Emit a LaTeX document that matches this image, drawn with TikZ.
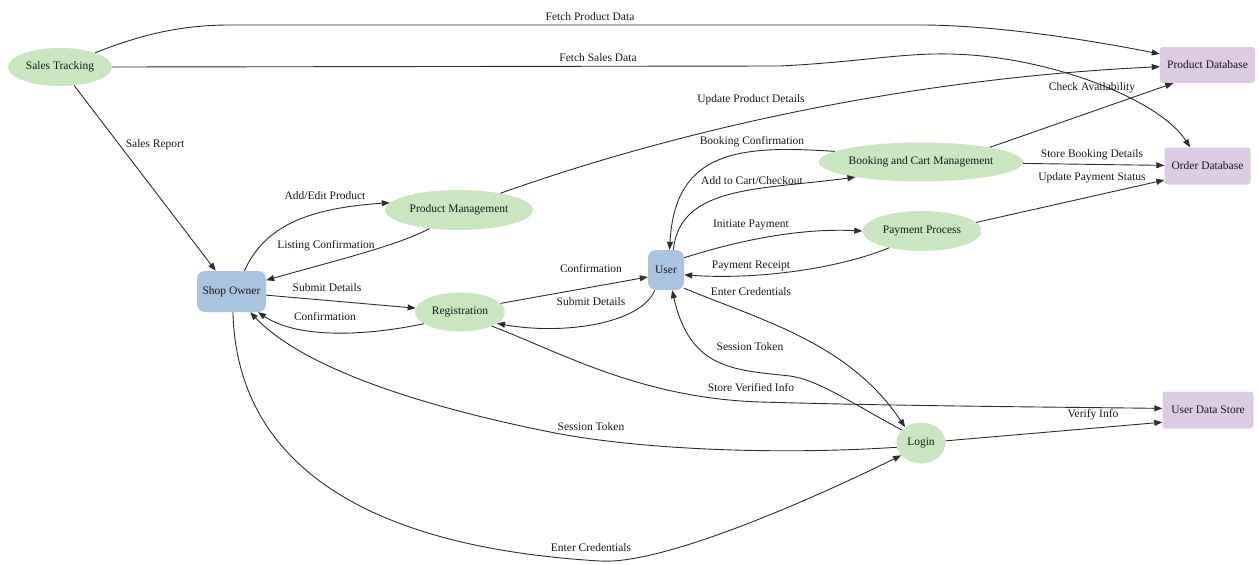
\documentclass[tikz,border=0pt]{standalone}
\usepackage{fontspec}
\setmainfont{Liberation Serif}
\usetikzlibrary{shapes.geometric,arrows.meta}
\definecolor{procgreen}{HTML}{C9E6C0}
\definecolor{extblue}{HTML}{A9C5DF}
\definecolor{storepurple}{HTML}{DCCBE3}
\definecolor{linegray}{HTML}{2E2E2E}
\definecolor{txt}{HTML}{1A1A1A}
\begin{document}
\begin{tikzpicture}[x=1pt,y=-1pt,
  font=\fontsize{11.5}{13}\selectfont,
  proc/.style={ellipse, fill=procgreen, draw=none, inner sep=0pt, text=txt},
  ext/.style={rectangle, rounded corners=8pt, fill=extblue, inner sep=0pt, text=txt},
  store/.style={rectangle, rounded corners=3pt, fill=storepurple, inner sep=0pt, text=txt},
  flow/.style={draw=linegray, line width=0.9pt, -{Triangle[length=8pt,width=6pt]}},
  lbl/.style={inner sep=0pt, text=txt}]
\path[use as bounding box, fill=white] (0,0) rectangle (1259,565);

% nodes
\node[proc, minimum width=104pt, minimum height=38pt] (st) at (60,67) {Sales Tracking};
\node[store, minimum width=95pt, minimum height=36pt] (pdb) at (1207.5,65) {Product Database};
\node[store, minimum width=86pt, minimum height=37pt] (odb) at (1207.5,166) {Order Database};
\node[store, minimum width=91pt, minimum height=37pt] (uds) at (1208,410) {User Data Store};
\node[ext, minimum width=69pt, minimum height=41pt] (so) at (231.5,291.5) {Shop Owner};
\node[ext, minimum width=36pt, minimum height=40pt] (user) at (666,270) {User};
\node[proc, minimum width=148pt, minimum height=40pt] (pm) at (459,210) {Product Management};
\node[proc, minimum width=90pt, minimum height=39pt] (reg) at (460,312) {Registration};
\node[proc, minimum width=203pt, minimum height=39pt] (bcm) at (921,162) {Booking and Cart Management};
\node[proc, minimum width=119pt, minimum height=40pt] (pp) at (922,231) {Payment Process};
\node[proc, minimum width=49pt, minimum height=41pt] (login) at (921,443) {Login};

% connectors
\draw[flow] (st.22) .. controls (140,35) and (180,25) .. (230,25) -- (920,25)
  .. controls (1000,25) and (1100,42) .. (pdb.167)
  node[lbl] (l1) at (590,17) {Fetch Product Data};
\draw[flow] (st.east) -- (780,66) .. controls (860,62) and (900,53) .. (950,54)
  .. controls (1050,56) and (1160,100) .. (odb.133)
  node[lbl] (l2) at (598,58) {Fetch Sales Data};
\draw[flow] (st) -- (so) node[lbl] (l3) at (155,145) {Sales Report};
\draw[flow] (pm.22) .. controls (650,140) and (880,80) .. (pdb.182)
  node[lbl] (l4) at (751,100) {Update Product Details};
\draw[flow] (bcm.12) -- (pdb.208) node[lbl] (l5) at (1092,88) {Check Availability};
\draw[flow] (bcm) -- (odb) node[lbl] (l6) at (1092,155) {Store Booking Details};
\draw[flow] (pp.9) -- (odb.198) node[lbl] (l7) at (1092,178) {Update Payment Status};
\draw[flow] (bcm.173) .. controls (740,145) and (675,150) .. (user.80)
  node[lbl] (l8) at (752,142) {Booking Confirmation};
\draw[flow] (user.70) .. controls (680,185) and (760,190) .. (bcm.193)
  node[lbl] (l9) at (752,181) {Add to Cart/Checkout};
\draw[flow] (user.34) .. controls (740,240) and (800,228) .. (pp.west)
  node[lbl] (l10) at (751,225) {Initiate Payment};
\draw[flow] (pp.207) .. controls (840,268) and (760,280) .. (user.-15)
  node[lbl] (l11) at (751,266) {Payment Receipt};
\draw[flow] (user.-45) .. controls (760,320) and (848,342) .. (login.135)
  node[lbl] (l12) at (751,292) {Enter Credentials};
\draw[flow] (login.146) .. controls (850,402) and (818,380) .. (790,376)
  .. controls (735,370) and (690,370) .. (user.-73)
  node[lbl] (l13) at (750,347) {Session Token};
\draw[flow] (reg.12) -- (user.201) node[lbl] (l14) at (591,269) {Confirmation};
\draw[flow] (user.-119) .. controls (640,325) and (560,335) .. (reg.-17)
  node[lbl] (l15) at (591,302) {Submit Details};
\draw[flow] (so.-6) -- (reg.175) node[lbl] (l16) at (327,288) {Submit Details};
\draw[flow] (reg.198) .. controls (370,335) and (300,340) .. (so.-38)
  node[lbl] (l17) at (325,317) {Confirmation};
\draw[flow] (so.58) .. controls (265,225) and (310,208) .. (pm.174)
  node[lbl] (l18) at (325,196) {Add/Edit Product};
\draw[flow] (pm.212) .. controls (400,245) and (330,262) .. (so.18)
  node[lbl] (l19) at (326,246) {Listing Confirmation};
\draw[flow] (login.190) .. controls (780,455) and (640,450) .. (550,432)
  .. controls (450,412) and (310,375) .. (so.-48)
  node[lbl] (l20) at (591,427) {Session Token};
\draw[flow] (so.-86) .. controls (236,440) and (330,545) .. (600,561)
  .. controls (660,565) and (800,505) .. (login.212)
  node[lbl] (l21) at (591,548) {Enter Credentials};
\draw[flow] (reg.-24) .. controls (560,352) and (640,398) .. (760,402)
  .. controls (900,406) and (1050,407) .. (uds.178)
  node[lbl] (l22) at (751,388) {Store Verified Info};
\draw[flow] (login.5) -- (uds.195) node[lbl] (l23) at (1093,415) {Verify Info};
\end{tikzpicture}
\end{document}
